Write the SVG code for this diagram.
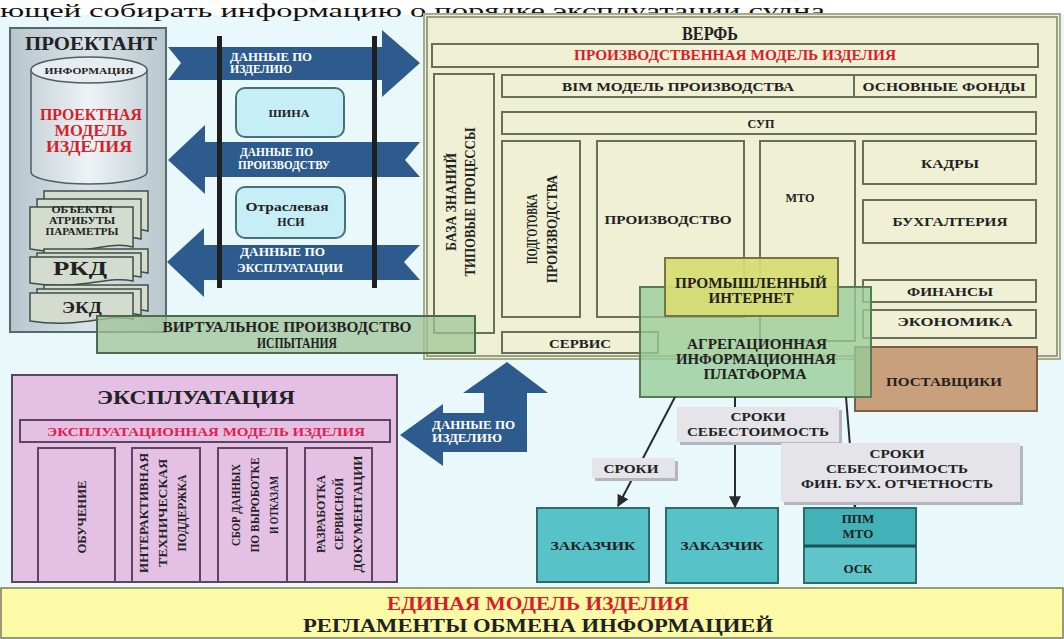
<svg xmlns="http://www.w3.org/2000/svg" width="1064" height="639" viewBox="0 0 1064 639">
<defs>
<marker id="ah" viewBox="0 0 10 10" refX="9" refY="5" markerWidth="6" markerHeight="6" orient="auto"><path d="M0,0 L10,5 L0,10 z" fill="#2a2a2a"/></marker>
<linearGradient id="gProj" x1="0" y1="0" x2="1" y2="0"><stop offset="0" stop-color="#b7c6cd"/><stop offset="0.5" stop-color="#d9e3e8"/><stop offset="1" stop-color="#b9c7ce"/></linearGradient>
<linearGradient id="gCyl" x1="0" y1="0" x2="1" y2="0"><stop offset="0" stop-color="#c9d5db"/><stop offset="0.5" stop-color="#eef3f5"/><stop offset="1" stop-color="#c9d5db"/></linearGradient>
</defs>
<style>
.t{font-family:"Liberation Serif","Times New Roman",serif;font-weight:bold;text-anchor:middle;fill:#222}
.r{fill:#d61f2c}
.pr{fill:#e2204e}
.w{fill:#ffffff;text-anchor:start}
.box{fill:#f0f0d5;stroke:#66705a;stroke-width:2}
.doc{fill:#d3dccf;stroke:#3f4d48;stroke-width:1.5}
.arr{fill:#2d5b8d}
.lbl{fill:#e5e5e9}
.sh{fill:#b4b6bf}
.teal{fill:#57c3c9;stroke:#2e6b70;stroke-width:2}
.vbox{fill:#e3c0e4;stroke:#5c465d;stroke-width:2}
.ln{stroke:#2b2b2b;stroke-width:2;fill:none;marker-end:url(#ah)}
.bar{fill:#1f1f1f}
.bus{fill:#c6eef7;stroke:#4b6f78;stroke-width:2}
</style>

<rect x="0" y="0" width="1064" height="639" fill="#ffffff"/>
<rect x="0" y="15" width="1064" height="624" fill="#e9f8fb"/>
<text x="0" y="17" font-family="Liberation Serif,serif" font-size="19" fill="#111" textLength="833" lengthAdjust="spacingAndGlyphs">ющей собирать информацию о порядке эксплуатации судна.</text>

<g id="proektant">
<rect x="10" y="28" width="156" height="304" fill="url(#gProj)" stroke="#56676e" stroke-width="2"/>
<text class="t" x="91" y="50" font-size="19" textLength="132" lengthAdjust="spacingAndGlyphs">ПРОЕКТАНТ</text>
</g>
<g id="project-model">
<path d="M31,70 V172 A58,12 0 0 0 147,172 V70 Z" fill="url(#gCyl)" stroke="#4f5f66" stroke-width="1.5"/>
<ellipse cx="89" cy="70" rx="58" ry="13" fill="#e6edf0" stroke="#4f5f66" stroke-width="1.5"/>
<text class="t" x="89" y="74" font-size="9" textLength="89" lengthAdjust="spacingAndGlyphs">ИНФОРМАЦИЯ</text>
<text class="t r" x="91" y="120" font-size="16" textLength="102" lengthAdjust="spacingAndGlyphs">ПРОЕКТНАЯ</text>
<text class="t r" x="91" y="136" font-size="16" textLength="73" lengthAdjust="spacingAndGlyphs">МОДЕЛЬ</text>
<text class="t r" x="89" y="152" font-size="16" textLength="86" lengthAdjust="spacingAndGlyphs">ИЗДЕЛИЯ</text>
</g>
<g id="doc-objects">
<path class="doc" d="M44,191 H148 V231 C122,224 96,242 44,233 Z"/>
<path class="doc" d="M37,199 H141 V239 C115,232 89,250 37,241 Z"/>
<path class="doc" d="M30,207 H133 V247 C107,240 81,258 30,249 Z"/>
<text class="t" x="82" y="213" font-size="9.5" textLength="61" lengthAdjust="spacingAndGlyphs">ОБЪЕКТЫ</text>
<text class="t" x="82" y="224" font-size="9.5" textLength="66" lengthAdjust="spacingAndGlyphs">АТРИБУТЫ</text>
<text class="t" x="82" y="235" font-size="9.5" textLength="73" lengthAdjust="spacingAndGlyphs">ПАРАМЕТРЫ</text>
</g>
<g id="doc-rkd">
<path class="doc" d="M44,249 H148 V273 C122,267 96,283 44,275 Z"/>
<path class="doc" d="M37,253 H141 V277 C115,271 89,287 37,279 Z"/>
<path class="doc" d="M30,257 H133 V281 C107,275 81,291 30,283 Z"/>
<text class="t" x="80" y="275" font-size="18" textLength="54" lengthAdjust="spacingAndGlyphs">РКД</text>
</g>
<g id="doc-ekd">
<path class="doc" d="M44,285 H148 V311 C122,305 96,321 44,313 Z"/>
<path class="doc" d="M37,289 H141 V315 C115,309 89,325 37,317 Z"/>
<path class="doc" d="M30,293 H133 V319 C107,313 81,329 30,321 Z"/>
<text class="t" x="82" y="313" font-size="17" textLength="40" lengthAdjust="spacingAndGlyphs">ЭКД</text>
</g>

<g id="connectors">
<g id="arrow-product-data">
<polygon class="arr" points="168,47 382,47 382,30 420,63 382,97 382,80 168,80 181,63"/>
<text class="t w" x="230" y="61" font-size="12" textLength="82" lengthAdjust="spacingAndGlyphs">ДАННЫЕ ПО</text>
<text class="t w" x="230" y="73" font-size="12" textLength="62" lengthAdjust="spacingAndGlyphs">ИЗДЕЛИЮ</text>
</g>
<g id="arrow-production-data">
<polygon class="arr" points="168,160 205,125 205,142 420,142 405,160 420,177 205,177 205,194"/>
<text class="t w" x="240" y="156" font-size="12" textLength="73" lengthAdjust="spacingAndGlyphs">ДАННЫЕ ПО</text>
<text class="t w" x="238" y="169" font-size="12" textLength="92" lengthAdjust="spacingAndGlyphs">ПРОИЗВОДСТВУ</text>
</g>
<g id="arrow-operation-data">
<polygon class="arr" points="167,262 204,228 204,245 420,245 404,262 420,280 204,280 204,297"/>
<text class="t w" x="240" y="256" font-size="12" textLength="85" lengthAdjust="spacingAndGlyphs">ДАННЫЕ ПО</text>
<text class="t w" x="237" y="272" font-size="12" textLength="106" lengthAdjust="spacingAndGlyphs">ЭКСПЛУАТАЦИИ</text>
</g>
<rect class="bar" x="217" y="36" width="5" height="252"/>
<rect class="bar" x="372" y="36" width="5" height="252"/>
</g>

<g id="bus">
<rect class="bus" x="236" y="88" width="108" height="49" rx="9"/>
<text class="t" x="289" y="117" font-size="10.5" textLength="41" lengthAdjust="spacingAndGlyphs">ШИНА</text>
</g>
<g id="nsi">
<rect class="bus" x="236" y="187" width="109" height="51" rx="9"/>
<text class="t" x="287" y="211" font-size="12" textLength="83" lengthAdjust="spacingAndGlyphs">Отраслевая</text>
<text class="t" x="291" y="226" font-size="12">НСИ</text>
</g>

<g id="verf">
<rect x="424" y="14" width="636" height="345" fill="#efefd3" stroke="#a4ad92" stroke-width="2"/>
<rect x="427" y="17" width="630" height="339" fill="none" stroke="#7c866c" stroke-width="1.5"/>
<text class="t" x="710" y="40" font-size="19" textLength="56" lengthAdjust="spacingAndGlyphs">ВЕРФЬ</text>
</g>
<g id="prod-model">
<rect class="box" x="432" y="44" width="606" height="23"/>
<text class="t r" x="735" y="60" font-size="14" textLength="322" lengthAdjust="spacingAndGlyphs">ПРОИЗВОДСТВЕННАЯ МОДЕЛЬ ИЗДЕЛИЯ</text>
</g>
<g id="knowledge-base">
<rect class="box" x="434" y="74" width="60" height="259"/>
<text class="t" transform="translate(451,202) rotate(-90)" y="5" font-size="14" textLength="98" lengthAdjust="spacingAndGlyphs">БАЗА ЗНАНИЙ</text>
<text class="t" transform="translate(470,202) rotate(-90)" y="5" font-size="14" textLength="149" lengthAdjust="spacingAndGlyphs">ТИПОВЫЕ ПРОЦЕССЫ</text>
</g>
<g id="bim">
<rect class="box" x="502" y="75" width="352" height="22"/>
<text class="t" x="678" y="91" font-size="13.5" textLength="232" lengthAdjust="spacingAndGlyphs">BIM МОДЕЛЬ ПРОИЗВОДСТВА</text>
</g>
<g id="fixed-assets">
<rect class="box" x="854" y="75" width="182" height="22"/>
<text class="t" x="944" y="91" font-size="13.5" textLength="163" lengthAdjust="spacingAndGlyphs">ОСНОВНЫЕ ФОНДЫ</text>
</g>
<g id="sup">
<rect class="box" x="502" y="112" width="534" height="22"/>
<text class="t" x="761" y="128" font-size="13.5" textLength="27" lengthAdjust="spacingAndGlyphs">СУП</text>
</g>
<g id="prep">
<rect class="box" x="502" y="141" width="78" height="176"/>
<text class="t" transform="translate(532,229) rotate(-90)" y="5" font-size="14" textLength="70" lengthAdjust="spacingAndGlyphs">ПОДГОТОВКА</text>
<text class="t" transform="translate(552,229) rotate(-90)" y="5" font-size="14" textLength="108" lengthAdjust="spacingAndGlyphs">ПРОИЗВОДСТВА</text>
</g>
<g id="production">
<rect class="box" x="597" y="141" width="147" height="176"/>
<text class="t" x="668" y="224" font-size="13.5" textLength="127" lengthAdjust="spacingAndGlyphs">ПРОИЗВОДСТВО</text>
</g>
<g id="mto">
<rect class="box" x="760" y="141" width="95" height="200"/>
<text class="t" x="800" y="202" font-size="13.5" textLength="29" lengthAdjust="spacingAndGlyphs">МТО</text>
</g>
<g id="staff">
<rect class="box" x="863" y="141" width="173" height="43"/>
<text class="t" x="950" y="168" font-size="13.5" textLength="58" lengthAdjust="spacingAndGlyphs">КАДРЫ</text>
</g>
<g id="accounting">
<rect class="box" x="863" y="200" width="173" height="43"/>
<text class="t" x="950" y="226" font-size="13.5" textLength="115" lengthAdjust="spacingAndGlyphs">БУХГАЛТЕРИЯ</text>
</g>
<g id="finance">
<rect class="box" x="863" y="280" width="173" height="22"/>
<text class="t" x="950" y="296" font-size="13.5" textLength="86" lengthAdjust="spacingAndGlyphs">ФИНАНСЫ</text>
</g>
<g id="economy">
<rect class="box" x="863" y="310" width="173" height="28"/>
<text class="t" x="955" y="326" font-size="13.5" textLength="115" lengthAdjust="spacingAndGlyphs">ЭКОНОМИКА</text>
</g>
<g id="service">
<rect class="box" x="502" y="332" width="156" height="21"/>
<text class="t" x="580" y="348" font-size="13.5" textLength="62" lengthAdjust="spacingAndGlyphs">СЕРВИС</text>
</g>

<g id="virtual">
<rect x="97" y="316" width="378" height="37" fill="#9fc497" fill-opacity="0.75" stroke="#4c6a4c" stroke-width="2"/>
<text class="t" x="287" y="332" font-size="14" textLength="249" lengthAdjust="spacingAndGlyphs">ВИРТУАЛЬНОЕ ПРОИЗВОДСТВО</text>
<text class="t" x="297" y="348" font-size="14" textLength="80" lengthAdjust="spacingAndGlyphs">ИСПЫТАНИЯ</text>
</g>

<g id="suppliers">
<rect x="855" y="347" width="182" height="64" fill="#c9a07c" stroke="#7d5d45" stroke-width="2"/>
<text class="t" x="944" y="386" font-size="13.5" textLength="116" lengthAdjust="spacingAndGlyphs">ПОСТАВЩИКИ</text>
</g>
<g id="platform">
<rect x="640" y="287" width="231" height="110" fill="#98cc99" fill-opacity="0.78" stroke="#577a57" stroke-width="2"/>
<text class="t" x="757" y="349" font-size="14" textLength="140" lengthAdjust="spacingAndGlyphs">АГРЕГАЦИОННАЯ</text>
<text class="t" x="756" y="364" font-size="14" textLength="160" lengthAdjust="spacingAndGlyphs">ИНФОРМАЦИОННАЯ</text>
<text class="t" x="755" y="379" font-size="14" textLength="103" lengthAdjust="spacingAndGlyphs">ПЛАТФОРМА</text>
</g>
<g id="iiot">
<rect x="665" y="258" width="173" height="58" fill="#d6dc72" fill-opacity="0.92" stroke="#76763e" stroke-width="2"/>
<text class="t" x="751" y="288" font-size="14" textLength="152" lengthAdjust="spacingAndGlyphs">ПРОМЫШЛЕННЫЙ</text>
<text class="t" x="751" y="303" font-size="14" textLength="85" lengthAdjust="spacingAndGlyphs">ИНТЕРНЕТ</text>
</g>

<g id="operation">
<rect class="vbox" x="12" y="375" width="385" height="207"/>
<text class="t" x="196" y="404" font-size="19" textLength="198" lengthAdjust="spacingAndGlyphs">ЭКСПЛУАТАЦИЯ</text>
</g>
<g id="op-model">
<rect class="vbox" x="20" y="420" width="370" height="22"/>
<text class="t pr" x="206" y="436" font-size="13" textLength="318" lengthAdjust="spacingAndGlyphs">ЭКСПЛУАТАЦИОННАЯ МОДЕЛЬ ИЗДЕЛИЯ</text>
</g>
<g id="training">
<rect class="vbox" x="38" y="448" width="77" height="134"/>
<text class="t" transform="translate(81,517) rotate(-90)" y="5" font-size="13.5" textLength="73" lengthAdjust="spacingAndGlyphs">ОБУЧЕНИЕ</text>
</g>
<g id="support">
<rect class="vbox" x="132" y="448" width="68" height="134"/>
<text class="t" transform="translate(143,513) rotate(-90)" y="5" font-size="13.5" textLength="120" lengthAdjust="spacingAndGlyphs">ИНТЕРАКТИВНАЯ</text>
<text class="t" transform="translate(162,513) rotate(-90)" y="5" font-size="13.5" textLength="108" lengthAdjust="spacingAndGlyphs">ТЕХНИЧЕСКАЯ</text>
<text class="t" transform="translate(181,513) rotate(-90)" y="5" font-size="13.5" textLength="77" lengthAdjust="spacingAndGlyphs">ПОДДЕРЖКА</text>
</g>
<g id="failure-data">
<rect class="vbox" x="218" y="448" width="69" height="134"/>
<text class="t" transform="translate(235,505) rotate(-90)" y="5" font-size="13.5" textLength="82" lengthAdjust="spacingAndGlyphs">СБОР ДАННЫХ</text>
<text class="t" transform="translate(254,505) rotate(-90)" y="5" font-size="13.5" textLength="95" lengthAdjust="spacingAndGlyphs">ПО ВЫРОБОТКЕ</text>
<text class="t" transform="translate(273,505) rotate(-90)" y="5" font-size="13.5" textLength="58" lengthAdjust="spacingAndGlyphs">И ОТКАЗАМ</text>
</g>
<g id="service-docs">
<rect class="vbox" x="305" y="448" width="67" height="134"/>
<text class="t" transform="translate(320,514) rotate(-90)" y="5" font-size="13.5" textLength="78" lengthAdjust="spacingAndGlyphs">РАЗРАБОТКА</text>
<text class="t" transform="translate(338,514) rotate(-90)" y="5" font-size="13.5" textLength="72" lengthAdjust="spacingAndGlyphs">СЕРВИСНОЙ</text>
<text class="t" transform="translate(357,514) rotate(-90)" y="5" font-size="13.5" textLength="117" lengthAdjust="spacingAndGlyphs">ДОКУМЕНТАЦИИ</text>
</g>

<g id="connectors-bottom">
<g id="arrow-product-data-2">
<polygon class="arr" points="507,362 548,393 527,393 527,452 443,452 443,466 400,435 443,404 443,413 484,413 484,393 463,393"/>
<text class="t w" x="432" y="429" font-size="12" textLength="83" lengthAdjust="spacingAndGlyphs">ДАННЫЕ ПО</text>
<text class="t w" x="432" y="442" font-size="12" textLength="70" lengthAdjust="spacingAndGlyphs">ИЗДЕЛИЮ</text>
</g>
<line class="ln" x1="675" y1="397" x2="618" y2="506"/>
<line class="ln" x1="735" y1="397" x2="735" y2="507"/>
<line class="ln" x1="846" y1="397" x2="855" y2="507"/>
</g>

<g id="label-terms-cost">
<rect class="sh" x="680" y="410" width="162" height="35"/>
<rect class="lbl" x="677" y="407" width="162" height="35"/>
<text class="t" x="758" y="421" font-size="13" textLength="55" lengthAdjust="spacingAndGlyphs">СРОКИ</text>
<text class="t" x="758" y="436" font-size="13" textLength="142" lengthAdjust="spacingAndGlyphs">СЕБЕСТОИМОСТЬ</text>
</g>
<g id="label-terms">
<rect class="sh" x="595" y="461" width="83" height="20"/>
<rect class="lbl" x="592" y="458" width="83" height="20"/>
<text class="t" x="631" y="473" font-size="13" textLength="55" lengthAdjust="spacingAndGlyphs">СРОКИ</text>
</g>
<g id="label-terms-cost-fin">
<rect class="sh" x="784" y="446" width="239" height="59"/>
<rect class="lbl" x="781" y="443" width="239" height="59"/>
<text class="t" x="897" y="458" font-size="13" textLength="55" lengthAdjust="spacingAndGlyphs">СРОКИ</text>
<text class="t" x="897" y="473" font-size="13" textLength="142" lengthAdjust="spacingAndGlyphs">СЕБЕСТОИМОСТЬ</text>
<text class="t" x="897" y="488" font-size="13" textLength="192" lengthAdjust="spacingAndGlyphs">ФИН. БУХ. ОТЧЕТНОСТЬ</text>
</g>

<g id="customer-1">
<rect class="teal" x="537" y="508" width="112" height="74"/>
<text class="t" x="593" y="550" font-size="13" textLength="85" lengthAdjust="spacingAndGlyphs">ЗАКАЗЧИК</text>
</g>
<g id="customer-2">
<rect class="teal" x="666" y="508" width="112" height="75"/>
<text class="t" x="722" y="550" font-size="13" textLength="83" lengthAdjust="spacingAndGlyphs">ЗАКАЗЧИК</text>
</g>
<g id="ppm-osk">
<rect x="804" y="508" width="112" height="38" fill="#42b2b8"/>
<rect x="804" y="546" width="112" height="37" fill="#5fc5ca"/>
<rect x="804" y="508" width="112" height="75" fill="none" stroke="#2e6b70" stroke-width="2"/>
<line x1="804" y1="546" x2="916" y2="546" stroke="#1d5054" stroke-width="3"/>
<text class="t" x="858" y="523" font-size="13">ППМ</text>
<text class="t" x="858" y="538" font-size="13">МТО</text>
<text class="t" x="858" y="573" font-size="13">ОСК</text>
</g>

<g id="banner">
<rect x="1" y="588" width="1062" height="50" fill="#fcfaa6" stroke="#7b7b55" stroke-width="1.5"/>
<text class="t r" x="538" y="610" font-size="19" textLength="302" lengthAdjust="spacingAndGlyphs">ЕДИНАЯ МОДЕЛЬ ИЗДЕЛИЯ</text>
<text class="t" x="538" y="632" font-size="19" textLength="470" lengthAdjust="spacingAndGlyphs">РЕГЛАМЕНТЫ ОБМЕНА ИНФОРМАЦИЕЙ</text>
</g>
</svg>
